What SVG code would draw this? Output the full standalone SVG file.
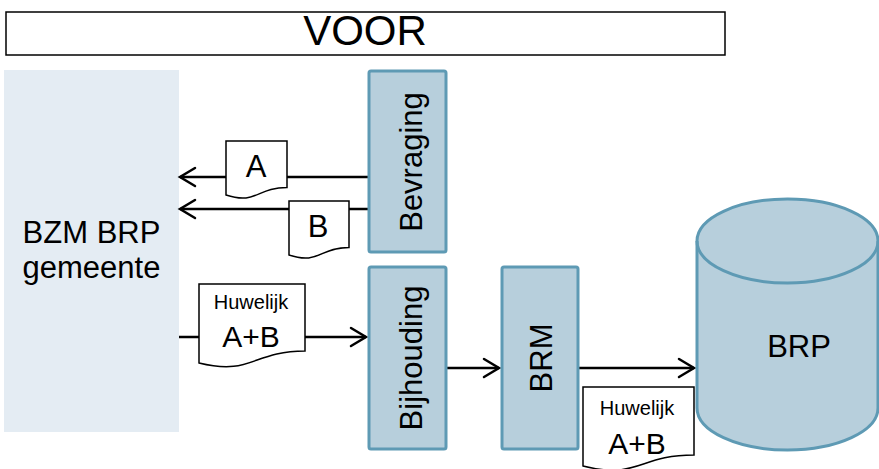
<svg xmlns="http://www.w3.org/2000/svg" width="879" height="469" viewBox="0 0 879 469">
<defs>
<style>
text{font-family:"Liberation Sans",Arial,sans-serif;fill:#000}
.box{fill:#b7cfdc;stroke:#5e9ab4;stroke-width:3}
.doc{fill:#fff;stroke:#000;stroke-width:1.5}
.con{stroke:#000;stroke-width:2.5;fill:none}
.ah{fill:none;stroke:#000;stroke-width:2.5;stroke-linecap:round;stroke-linejoin:miter}
.big{font-size:31px}
.small{font-size:20px}
</style>
</defs>
<rect width="879" height="469" fill="#fff"/>
<g id="title">
<rect x="6" y="12" width="719" height="43" fill="#fff" stroke="#000" stroke-width="1.5"/>
<text x="365" y="45" font-size="42" text-anchor="middle">VOOR</text>
</g>
<g id="bzm">
<rect x="4" y="70" width="175" height="362" fill="#e4ecf3"/>
<text x="91.5" y="243" class="big" text-anchor="middle">BZM BRP</text>
<text x="91.5" y="278" class="big" text-anchor="middle">gemeente</text>
</g>
<g id="connectors">
<path class="con" d="M369,177 H180"/>
<path class="ah" d="M195,168 L180,177 L195,186"/>
<path class="con" d="M369,209 H180"/>
<path class="ah" d="M195,200 L180,209 L195,218"/>
<path class="con" d="M179,337 H366"/>
<path class="ah" d="M351,328 L366,337 L351,346"/>
<path class="con" d="M443,368 H499"/>
<path class="ah" d="M484,359 L499,368 L484,377"/>
<path class="con" d="M578,368 H694"/>
<path class="ah" d="M679,359 L694,368 L679,377"/>
</g>
<g id="docA">
<path class="doc" d="M226,141 H287 V187.5 C256.5,187.5 256.5,205 226,195 Z"/>
<text x="256" y="177" class="big" text-anchor="middle">A</text>
</g>
<g id="docB">
<path class="doc" d="M289,201 H349 V247.5 C319,247.5 319,265 289,255 Z"/>
<text x="318" y="237" class="big" text-anchor="middle">B</text>
</g>
<g id="docHuwelijk1">
<path class="doc" d="M199,284 H305 V351 C252,351 252,376 199,363 Z"/>
<text x="251" y="309" class="small" text-anchor="middle">Huwelijk</text>
<text x="251" y="347" font-size="30" text-anchor="middle">A+B</text>
</g>
<g id="bevraging">
<rect class="box" x="369" y="71" width="77" height="181" rx="2"/>
<text transform="translate(422,162) rotate(-90)" class="big" text-anchor="middle">Bevraging</text>
</g>
<g id="bijhouding">
<rect class="box" x="369" y="267" width="77" height="182" rx="2"/>
<text transform="translate(422,358) rotate(-90)" class="big" text-anchor="middle">Bijhouding</text>
</g>
<g id="brm">
<rect class="box" x="502" y="267" width="76" height="182" rx="2"/>
<text transform="translate(552,358) rotate(-90)" class="big" text-anchor="middle">BRM</text>
</g>
<g id="brp">
<path class="box" d="M697,241 A90.5,42 0 0 1 878,241 V408 A90.5,42 0 0 1 697,408 Z"/>
<path fill="none" stroke="#5e9ab4" stroke-width="3" d="M697,241 A90.5,42 0 0 0 878,241"/>
<text x="799" y="357" class="big" text-anchor="middle">BRP</text>
</g>
<g id="docHuwelijk2">
<path class="doc" d="M583,387 H694 V455 C638.5,455 638.5,480 583,466 Z"/>
<text x="637" y="415" class="small" text-anchor="middle">Huwelijk</text>
<text x="637" y="454" font-size="30" text-anchor="middle">A+B</text>
</g>
</svg>
